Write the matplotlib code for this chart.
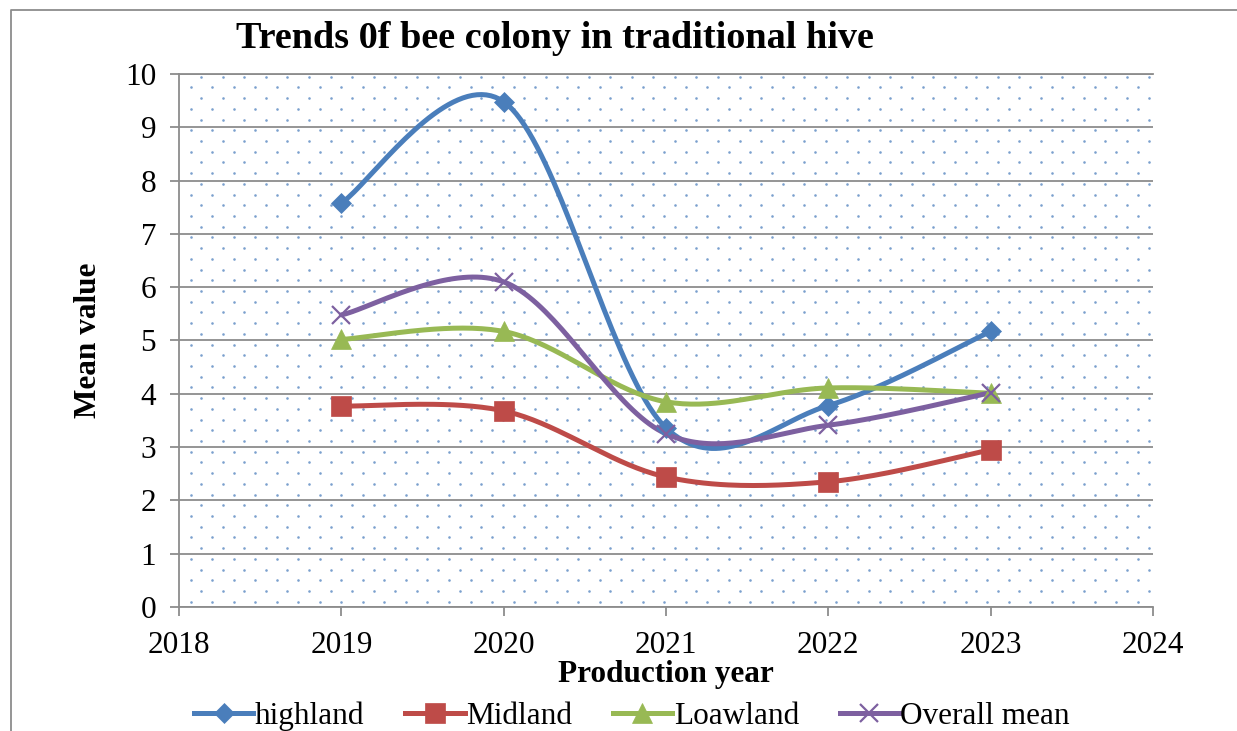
import numpy as np
import matplotlib.pyplot as plt
from matplotlib.lines import Line2D

plt.rcParams["font.family"] = ["Liberation Serif", "DejaVu Serif"]

years = [2019, 2020, 2021, 2022, 2023]
highland = [7.58, 9.48, 3.36, 3.78, 5.17]
midland = [3.77, 3.68, 2.44, 2.35, 2.95]
loawland = [5.02, 5.17, 3.85, 4.11, 4.01]
overall = [5.48, 6.10, 3.25, 3.41, 4.02]

series = [
    ("highland", highland, "#4A7EBB", "D", 10.5),
    ("Midland", midland, "#BE4B48", "s", 14),
    ("Loawland", loawland, "#98B954", "^", 14),
    ("Overall mean", overall, "#7D60A0", "x", 13),
]


def smooth(x, y, n=40):
    # Excel-style smoothed line: Bezier segments with 1/6 tangent control points
    x = np.asarray(x, float)
    y = np.asarray(y, float)
    px, py = [], []
    t = np.linspace(0, 1, n)
    for i in range(len(x) - 1):
        i0, i3 = max(i - 1, 0), min(i + 2, len(x) - 1)
        p0 = np.array([x[i], y[i]])
        p3 = np.array([x[i + 1], y[i + 1]])
        c1 = p0 + (p3 - np.array([x[i0], y[i0]])) / 6
        c2 = p3 - (np.array([x[i3], y[i3]]) - p0) / 6
        b = ((1 - t) ** 3)[:, None] * p0 + (3 * (1 - t) ** 2 * t)[:, None] * c1 \
            + (3 * (1 - t) * t ** 2)[:, None] * c2 + (t ** 3)[:, None] * p3
        px.extend(b[:, 0])
        py.extend(b[:, 1])
    return px, py


fig = plt.figure(figsize=(12.37, 7.31), dpi=100)
ax = fig.add_axes([0.1447, 0.1696, 0.7874, 0.7292])

# dotted background fill
gx, gy = [], []
rows = np.arange(0.01, 1.0, 0.0201)
for k, yy in enumerate(rows):
    off = 0.0 if k % 2 == 0 else 0.011
    xs = np.arange(0.012 + off, 1.0, 0.0221)
    gx.extend(xs)
    gy.extend([yy] * len(xs))
ax.scatter(gx, gy, s=3.5, color="#4F81BD", alpha=0.75, linewidths=0,
           transform=ax.transAxes, zorder=0)

for name, vals, col, mk, ms in series:
    sx, sy = smooth(years, vals)
    ax.plot(sx, sy, color=col, lw=3.6, zorder=3, solid_capstyle="round")
    ax.plot(years, vals, linestyle="none", marker=mk, color=col, ms=ms,
            mew=1.6 if mk == "x" else 0.5, zorder=4)

ax.set_xlim(2018, 2024)
ax.set_ylim(0, 10)
ax.set_xticks(range(2018, 2025))
ax.set_yticks(range(0, 11))
ax.yaxis.grid(True, color="#8c8c8c", lw=1.3)
ax.set_axisbelow(True)
ax.spines["right"].set_visible(False)
for s in ["left", "bottom", "top"]:
    ax.spines[s].set_color("#8c8c8c")
    ax.spines[s].set_linewidth(1.3)
ax.tick_params(axis="both", colors="#8c8c8c", labelcolor="black",
               labelsize=22.5, length=6.5, width=1.3)
ax.tick_params(axis="y", pad=10)
ax.tick_params(axis="x", pad=11)

ax.set_xlabel("Production year", fontsize=22.5, fontweight="bold", labelpad=0)
ax.set_ylabel("Mean value", fontsize=22.5, fontweight="bold", labelpad=16)
fig.text(0.449, 0.948, "Trends 0f bee colony in traditional hive",
         fontsize=27.5, fontweight="bold", ha="center", va="center")

handles = [Line2D([0], [0], color=col, lw=3.6, marker=mk, ms=ms,
                  mew=1.6 if mk == "x" else 0.5)
           for name, vals, col, mk, ms in series]
fig.legend(handles, [s[0] for s in series], loc="center", ncol=4,
           bbox_to_anchor=(0.511, 0.02), frameon=False, fontsize=22.5,
           handlelength=1.9, handletextpad=0.05, columnspacing=1.3)

# outer chart border
fig.add_artist(Line2D([11 / 1237, 11 / 1237, 1.0], [0.0, 1 - 10 / 731, 1 - 10 / 731],
                      transform=fig.transFigure, color="#8c8c8c", lw=1.3))

fig.savefig("out.png", dpi=100)
